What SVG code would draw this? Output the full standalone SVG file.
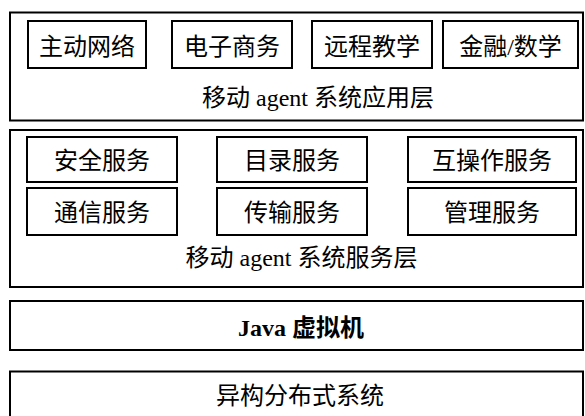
<svg xmlns="http://www.w3.org/2000/svg" width="585" height="416" viewBox="0 0 585 416">
<style>
  .layer { fill: none; stroke: #000; stroke-width: 2; }
  .box { fill: #fff; stroke: #000; stroke-width: 2; }
  text { font-family: "Liberation Serif", "Noto Sans CJK SC", serif; font-size: 24px; fill: #000; text-anchor: middle; }
  .bold { font-weight: bold; }
</style>
<rect width="585" height="416" fill="#fff"/>
<g id="app-layer">
  <rect class="layer" x="10" y="12.5" width="573" height="108"/>
  <text x="318" y="106">移动 agent 系统应用层</text>
</g>
<g id="node-zhudong">
  <rect class="box" x="28" y="21" width="118" height="47"/>
  <text x="87" y="55">主动网络</text>
</g>
<g id="node-dianzi">
  <rect class="box" x="172" y="21" width="120" height="47"/>
  <text x="232" y="55">电子商务</text>
</g>
<g id="node-yuancheng">
  <rect class="box" x="312" y="21" width="120" height="47"/>
  <text x="372" y="55">远程教学</text>
</g>
<g id="node-jinrong">
  <rect class="box" x="443" y="21" width="135" height="47"/>
  <text x="510.5" y="55">金融/数学</text>
</g>
<g id="service-layer">
  <rect class="layer" x="10" y="130" width="573" height="157"/>
  <text x="301.5" y="266">移动 agent 系统服务层</text>
</g>
<g id="node-anquan">
  <rect class="box" x="27" y="137" width="150" height="45"/>
  <text x="102" y="168.5">安全服务</text>
</g>
<g id="node-mulu">
  <rect class="box" x="217" y="137" width="150" height="45"/>
  <text x="292" y="168.5">目录服务</text>
</g>
<g id="node-hucaozuo">
  <rect class="box" x="408" y="137" width="168" height="45"/>
  <text x="492" y="168.5">互操作服务</text>
</g>
<g id="node-tongxin">
  <rect class="box" x="27" y="188" width="150" height="47"/>
  <text x="102" y="220.5">通信服务</text>
</g>
<g id="node-chuanshu">
  <rect class="box" x="217" y="188" width="150" height="47"/>
  <text x="292" y="220.5">传输服务</text>
</g>
<g id="node-guanli">
  <rect class="box" x="408" y="188" width="168" height="47"/>
  <text x="492" y="220.5">管理服务</text>
</g>
<g id="java-layer">
  <rect class="layer" x="10" y="301" width="573" height="49"/>
  <text class="bold" x="301" y="336">Java 虚拟机</text>
</g>
<g id="dist-layer">
  <rect class="layer" x="10" y="371.5" width="573" height="60"/>
  <text x="300" y="404">异构分布式系统</text>
</g>
<g id="connectors"></g>
</svg>
